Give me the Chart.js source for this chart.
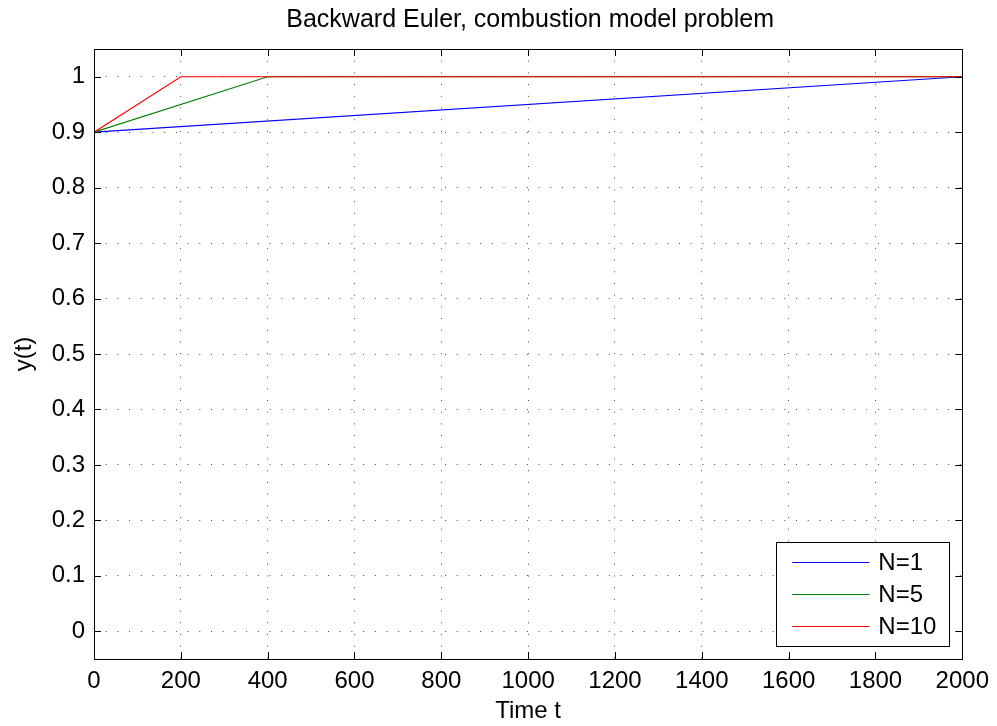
<!DOCTYPE html>
<html>
<head>
<meta charset="utf-8">
<script src="https://cdn.jsdelivr.net/npm/chart.js@4.4.0/dist/chart.umd.min.js"></script>
<style>
html,body{margin:0;padding:0;background:#fff;}
#wrap{width:997px;height:726px;position:relative;}
</style>
</head>
<body>
<div id="wrap"><canvas id="c" width="997" height="726"></canvas></div>
<script>
// ---- data ----
const seriesLabels = ['N=1', 'N=5', 'N=10'];
const seriesColors = ['#0000ff', '#008000', '#ff0000'];
const tN1 = [0, 2000];
const yN1 = [0.9, 1.0];
const tN5 = [0, 400, 800, 1200, 1600, 2000];
const yN5 = [0.9, 1.0, 1.0, 1.0, 1.0, 1.0];
const tN10 = [0, 200, 400, 600, 800, 1000, 1200, 1400, 1600, 1800, 2000];
const yN10 = [0.9, 1.0, 1.0, 1.0, 1.0, 1.0, 1.0, 1.0, 1.0, 1.0, 1.0];
const xTicks = [0, 200, 400, 600, 800, 1000, 1200, 1400, 1600, 1800, 2000];
const yTicks = [0, 0.1, 0.2, 0.3, 0.4, 0.5, 0.6, 0.7, 0.8, 0.9, 1];
const titleText = 'Backward Euler, combustion model problem';
const xLabel = 'Time t';
const yLabel = 'y(t)';

const toPts = (xs, ys) => xs.map((x, i) => ({x: x, y: ys[i]}));
const allT = [tN1, tN5, tN10];
const allY = [yN1, yN5, yN10];

const FONT = '"Liberation Sans", Arial, Helvetica, sans-serif';
const FS = 24;

const datasets = seriesLabels.map((lab, i) => ({
  label: lab,
  data: toPts(allT[i], allY[i]),
  borderColor: seriesColors[i],
  backgroundColor: seriesColors[i],
  borderWidth: 1.2,
  pointRadius: 0,
  fill: false,
  tension: 0,
  order: seriesLabels.length - i
}));

// title, inward ticks, frame and legend
const framePlugin = {
  id: 'frame',
  afterDraw(chart) {
    const ctx = chart.ctx;
    const a = chart.chartArea;
    const xs = chart.scales.x, ys = chart.scales.y;
    ctx.save();
    // title
    ctx.fillStyle = '#000';
    ctx.font = '25px ' + FONT;
    ctx.textAlign = 'center';
    ctx.textBaseline = 'middle';
    ctx.fillText(titleText, (a.left + a.right) / 2 + 2, 20);

    ctx.strokeStyle = '#000';
    ctx.lineWidth = 1;
    const tl = 7;
    xTicks.forEach(v => {
      const px = Math.round(xs.getPixelForValue(v)) + 0.5;
      ctx.beginPath();
      ctx.moveTo(px, a.bottom); ctx.lineTo(px, a.bottom - tl);
      ctx.moveTo(px, a.top); ctx.lineTo(px, a.top + tl);
      ctx.stroke();
    });
    yTicks.forEach(v => {
      const py = Math.round(ys.getPixelForValue(v)) + 0.5;
      ctx.beginPath();
      ctx.moveTo(a.left, py); ctx.lineTo(a.left + tl, py);
      ctx.moveTo(a.right, py); ctx.lineTo(a.right - tl, py);
      ctx.stroke();
    });
    ctx.strokeRect(Math.round(a.left) + 0.5, Math.round(a.top) + 0.5,
                   Math.round(a.right - a.left), Math.round(a.bottom - a.top));

    // legend
    const bx = a.right - 186, by = a.bottom - 117, bw = 173, bh = 104;
    ctx.fillStyle = '#fff';
    ctx.fillRect(bx, by, bw, bh);
    ctx.strokeRect(Math.round(bx) + 0.5, Math.round(by) + 0.5, bw, bh);
    ctx.font = FS + 'px ' + FONT;
    ctx.textBaseline = 'middle';
    ctx.textAlign = 'left';
    chart.data.datasets.forEach((ds, i) => {
      const ry = by + 20 + i * 32;
      ctx.strokeStyle = ds.borderColor;
      ctx.lineWidth = 1.2;
      ctx.beginPath();
      ctx.moveTo(bx + 16, Math.round(ry) + 0.5);
      ctx.lineTo(bx + 93, Math.round(ry) + 0.5);
      ctx.stroke();
      ctx.fillStyle = '#000';
      ctx.fillText(ds.label, bx + 102, ry + 1);
    });
    ctx.restore();
  }
};

const gridOpts = {
  color: 'rgba(0,0,0,0.7)',
  lineWidth: 1,
  drawTicks: false
};

new Chart(document.getElementById('c'), {
  type: 'line',
  data: { datasets: datasets },
  options: {
    responsive: false,
    animation: false,
    devicePixelRatio: 1,
    layout: { padding: { left: 0, right: 34, top: 49, bottom: 0 } },
    plugins: {
      legend: { display: false },
      tooltip: { enabled: false },
      title: { display: false }
    },
    scales: {
      x: {
        type: 'linear',
        min: 0, max: 2000,
        afterBuildTicks(s) { s.ticks = xTicks.map(v => ({value: v})); },
        afterFit(s) { s.height = 67; },
        ticks: { color: '#000', font: { family: FONT, size: FS }, padding: 8, maxRotation: 0,
                 autoSkip: false, callback: v => String(v) },
        grid: gridOpts,
        border: { display: false, dash: [1, 10.7] },
        title: { display: true, text: xLabel, color: '#000',
                 font: { family: FONT, size: FS }, padding: { top: 0, bottom: 0 } }
      },
      y: {
        type: 'linear',
        min: -0.05, max: 1.05,
        afterBuildTicks(s) { s.ticks = yTicks.map(v => ({value: v})); },
        afterFit(s) { s.width = 94; },
        ticks: { color: '#000', font: { family: FONT, size: FS }, padding: 9,
                 autoSkip: false, callback: v => String(Math.round(v * 10) / 10) },
        grid: gridOpts,
        border: { display: false, dash: [1, 10.7] },
        title: { display: true, text: yLabel, color: '#000',
                 font: { family: FONT, size: FS }, padding: { top: 10, bottom: 0 } }
      }
    }
  },
  plugins: [framePlugin]
});
</script>
</body>
</html>
